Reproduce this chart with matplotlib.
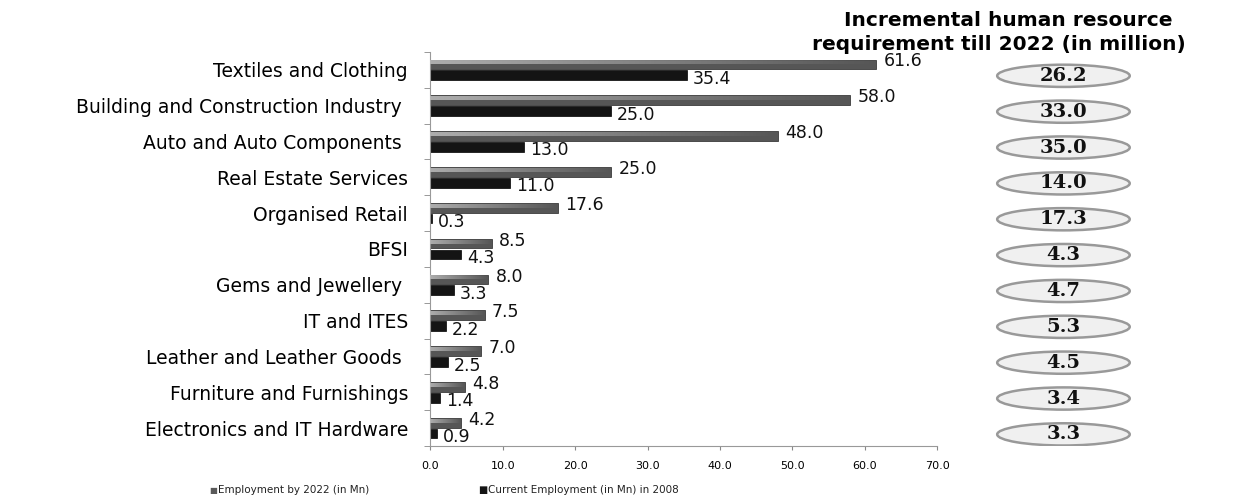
import numpy as np
import matplotlib.pyplot as plt
from matplotlib.patches import Ellipse

sectors = ['Textiles and Clothing', 'Building and Construction Industry ',
           'Auto and Auto Components ', 'Real Estate Services', 'Organised Retail',
           'BFSI', 'Gems and Jewellery ', 'IT and ITES', 'Leather and Leather Goods ',
           'Furniture and Furnishings', 'Electronics and IT Hardware']
employment_2022 = [61.6, 58.0, 48.0, 25.0, 17.6, 8.5, 8.0, 7.5, 7.0, 4.8, 4.2]
current_2008 = [35.4, 25.0, 13.0, 11.0, 0.3, 4.3, 3.3, 2.2, 2.5, 1.4, 0.9]
incremental = [26.2, 33.0, 35.0, 14.0, 17.3, 4.3, 4.7, 5.3, 4.5, 3.4, 3.3]
xticks = np.arange(0, 71, 10)

fig = plt.figure(figsize=(12.33, 4.98), dpi=100)
ax = fig.add_axes([0.349, 0.104, 0.411, 0.792])

y = np.arange(len(sectors))
h = 0.27
off = 0.15
ax.barh(y - off, employment_2022, height=h, color='#565656', edgecolor='#3c3c3c', lw=0.6)
ax.barh(y + off, current_2008, height=h, color='#141414', edgecolor='#000000', lw=0.5)

# light highlight band on the gray bars, fading out to the right
fade = np.zeros((1, 256, 4))
fade[..., :3] = 0.72
fade[..., 3] = np.linspace(0.9, 0.0, 256)
for i in range(len(sectors)):
    top = y[i] - off - h / 2
    ax.imshow(fade, extent=[0, employment_2022[i], top + h * 0.15, top + h * 0.5],
              aspect='auto', interpolation='bilinear', zorder=3)

for i in range(len(sectors)):
    ax.text(employment_2022[i] + 1.0, y[i] - off - 0.08, '%.1f' % employment_2022[i],
            fontsize=12.5, va='center', ha='left', color='#111111', zorder=4)
    ax.text(current_2008[i] + 0.8, y[i] + off + 0.1, '%.1f' % current_2008[i],
            fontsize=12.5, va='center', ha='left', color='#111111', zorder=4)

ax.set_ylim(len(sectors) - 0.5, -0.5)
ax.set_xlim(0, 70)
ax.set_yticks(y)
ax.set_yticklabels(sectors, fontsize=13.5)
ax.set_yticks(np.arange(-0.5, len(sectors), 1), minor=True)
ax.tick_params(axis='y', which='major', length=0, pad=16)
ax.tick_params(axis='y', which='minor', length=4, color='#888888')
ax.set_xticks(xticks)
ax.set_xticklabels(['%.1f' % v for v in xticks], fontsize=8)
ax.tick_params(axis='x', length=3, color='#888888', pad=8)
for s in ['top', 'right']:
    ax.spines[s].set_visible(False)
ax.spines['left'].set_color('#999999')
ax.spines['bottom'].set_color('#999999')

# incremental requirement ellipses
ax2 = fig.add_axes([0.80, 0.104, 0.125, 0.792])
ax2.set_xlim(0, 1)
ax2.set_ylim(len(sectors) - 0.5, -0.5)
ax2.axis('off')
for i, v in enumerate(incremental):
    e = Ellipse((0.5, i + 0.17), 0.86, 0.62, facecolor='#f0f0f0', edgecolor='#999999', lw=1.8)
    ax2.add_patch(e)
    ax2.text(0.5, i + 0.17, '%.1f' % v, fontsize=14, fontweight='bold', family='DejaVu Serif',
             ha='center', va='center', color='#111111')

fig.text(0.8175, 0.958, 'Incremental human resource', fontsize=14.5, fontweight='bold',
         ha='center', va='center')
fig.text(0.810, 0.91, 'requirement till 2022 (in million)', fontsize=14.5, fontweight='bold',
         ha='center', va='center')

# legend
fig.text(0.170, 0.016, '\u25a0', fontsize=6, color='#5a5a5a', va='center')
fig.text(0.177, 0.016, 'Employment by 2022 (in Mn)', fontsize=7.5, va='center', color='#222222')
fig.text(0.388, 0.016, '\u25a0', fontsize=7, color='#141414', va='center')
fig.text(0.396, 0.016, 'Current Employment (in Mn) in 2008', fontsize=7.5, va='center', color='#222222')

fig.savefig('out.png', dpi=100)
